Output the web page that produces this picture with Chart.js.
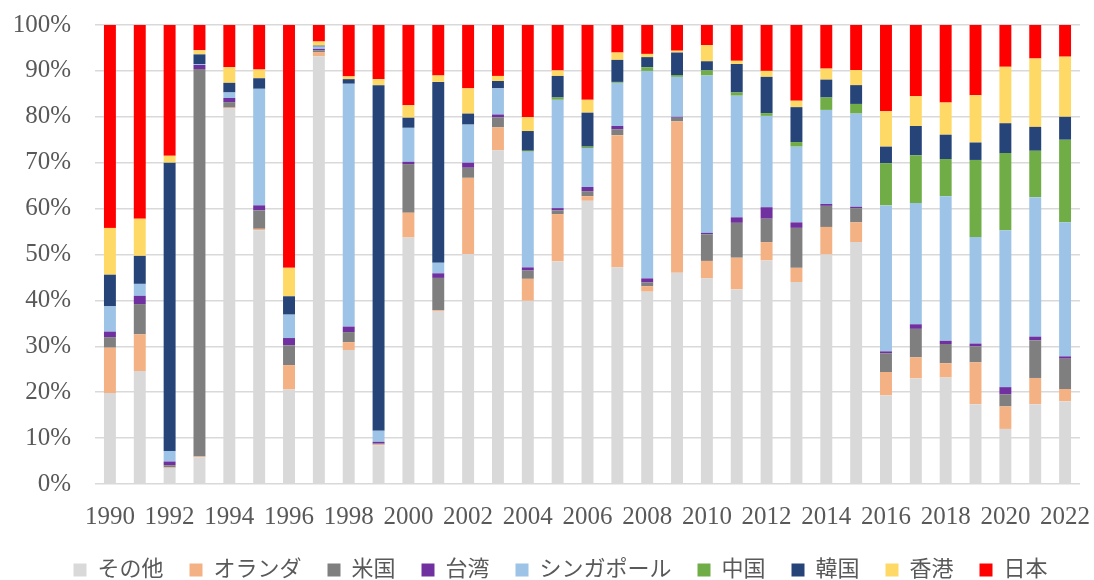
<!DOCTYPE html>
<html>
<head>
<meta charset="utf-8">
<script src="https://cdn.jsdelivr.net/npm/chart.js@4/dist/chart.umd.min.js"></script>
<style>
  html, body { margin: 0; padding: 0; background: #ffffff; }
  #wrap { width: 1094px; height: 580px; }
</style>
</head>
<body>
<div id="wrap"><canvas id="c" width="1094" height="580"></canvas></div>
<script>
const years = [1990,1991,1992,1993,1994,1995,1996,1997,1998,1999,2000,2001,2002,2003,2004,2005,2006,2007,2008,2009,2010,2011,2012,2013,2014,2015,2016,2017,2018,2019,2020,2021,2022];

const sonota    = [19.8,24.6,3.5,5.8,81.8,55.3,20.6,93.2,29.2,8.4, 53.7,37.7,50.1,72.7,39.9,48.5,61.7,47.2,41.9,46.0, 44.8,42.4,48.7,44.0,50.0,52.7,19.3,23.0,23.2,17.4, 12.0,17.4,18.0];
const oranda    = [9.9,8.0,0.1,0.2,0.2,0.3,5.3,0.9,1.7,0.2, 5.4,0.2,16.6,5.0,4.8,10.3,1.0,28.8,1.2,33.0, 3.8,6.9,4.0,3.1,6.0,4.3,5.1,4.6,3.1,9.1, 4.9,5.7,2.7];
const beikoku   = [2.3,6.6,0.5,84.4,1.2,4.0,4.3,0.4,2.2,0.2, 10.6,7.0,2.2,2.2,1.8,0.8,1.1,1.3,0.8,0.8, 5.8,7.6,5.1,8.7,4.6,3.1,4.1,6.2,4.2,3.5, 2.6,8.2,6.6];
const taiwan    = [1.2,1.8,0.8,0.9,0.9,1.1,1.6,0.3,1.2,0.4, 0.5,1.0,1.1,0.6,0.7,0.5,0.9,0.7,0.9,0.2, 0.3,1.2,2.5,1.2,0.4,0.3,0.4,1.0,0.7,0.6, 1.6,0.8,0.5];
const singapore = [5.5,2.6,2.3,0.2,1.2,25.4,5.1,0.5,52.9,2.4, 7.4,2.3,8.3,5.7,25.2,23.6,8.5,9.4,45.2,8.7, 34.3,26.5,19.9,16.5,20.5,20.3,31.8,26.4,31.5,23.2, 34.2,30.4,29.2];
const china     = [0,0,0,0,0,0,0,0,0,0, 0,0,0,0,0.2,0.5,0.3,0.2,0.8,0.4, 1.1,0.7,0.6,1.0,2.7,2.1,9.2,10.4,8.1,16.8, 16.8,10.1,18.0];
const kankoku   = [6.9,6.1,62.8,2.1,2.1,2.3,4.0,0.2,1.0,75.3, 2.2,39.4,2.4,1.6,4.3,4.7,7.4,4.8,2.2,4.9, 2.0,6.2,7.9,7.6,3.9,4.1,3.6,6.4,5.3,3.8, 6.5,5.2,5.0];
const honkon    = [10.2,8.1,1.5,0.9,3.4,1.9,6.2,0.9,0.6,1.3, 2.7,1.4,5.5,1.1,3.0,1.2,2.8,1.6,0.7,0.4, 3.5,0.7,1.3,1.4,2.4,3.3,7.7,6.5,7.0,10.3, 12.3,14.9,13.1];
const nihon     = [44.2,42.2,28.5,5.5,9.2,9.7,52.9,3.6,11.2,11.8, 17.5,11.0,13.8,11.1,20.1,9.9,16.3,6.0,6.3,5.6, 4.4,7.8,10.0,16.5,9.5,9.8,18.8,15.5,16.9,15.3, 9.1,7.3,7.9];

const seriesNames = ['その他','オランダ','米国','台湾','シンガポール','中国','韓国','香港','日本'];
const seriesData = [sonota, oranda, beikoku, taiwan, singapore, china, kankoku, honkon, nihon];
const seriesColors = ['#d9d9d9','#f4b183','#7f7f7f','#7030a0','#9dc3e6','#70ad47','#264478','#ffd966','#ff0000'];
const yTicks = [0,10,20,30,40,50,60,70,80,90,100];

const serif = "'Liberation Serif', 'Times New Roman', 'Noto Sans CJK JP', serif";
const textColor = '#595959';

new Chart(document.getElementById('c'), {
  type: 'bar',
  data: {
    labels: years.map(String),
    datasets: seriesNames.map((n, i) => ({
      label: n,
      data: seriesData[i],
      backgroundColor: seriesColors[i],
      borderWidth: 0,
      barPercentage: 0.5,
      categoryPercentage: 0.8
    }))
  },
  options: {
    responsive: false,
    animation: false,
    layout: { padding: { left: 12, right: -15, top: 0, bottom: -11 } },
    plugins: {
      tooltip: { enabled: false },
      legend: {
        position: 'bottom',
        labels: {
          boxWidth: 13,
          boxHeight: 13,
          padding: 26,
          color: textColor,
          font: { family: serif, size: 22 }
        }
      }
    },
    scales: {
      x: {
        stacked: true,
        grid: { display: false, drawTicks: false },
        border: { display: false },
        afterFit: (axis) => { axis.height = 49; axis.paddingLeft = 0; axis.paddingRight = 14; },
        ticks: {
          autoSkip: false,
          maxRotation: 0,
          padding: 18,
          color: textColor,
          font: { family: serif, size: 25 },
          callback: function(v, i) { return (i % 2 === 0) ? years[i] : ''; }
        }
      },
      y: {
        stacked: true,
        min: 0,
        max: 100,
        afterBuildTicks: (axis) => { axis.ticks = yTicks.map(v => ({ value: v })); },
        afterFit: (axis) => { axis.width = 83; axis.paddingTop = 25; axis.paddingBottom = 0; },
        grid: { color: '#d9d9d9', lineWidth: 1.5, drawTicks: false },
        border: { display: false },
        ticks: {
          padding: 24,
          color: textColor,
          font: { family: serif, size: 25 },
          callback: v => v + '%'
        }
      }
    }
  }
});
</script>
</body>
</html>
